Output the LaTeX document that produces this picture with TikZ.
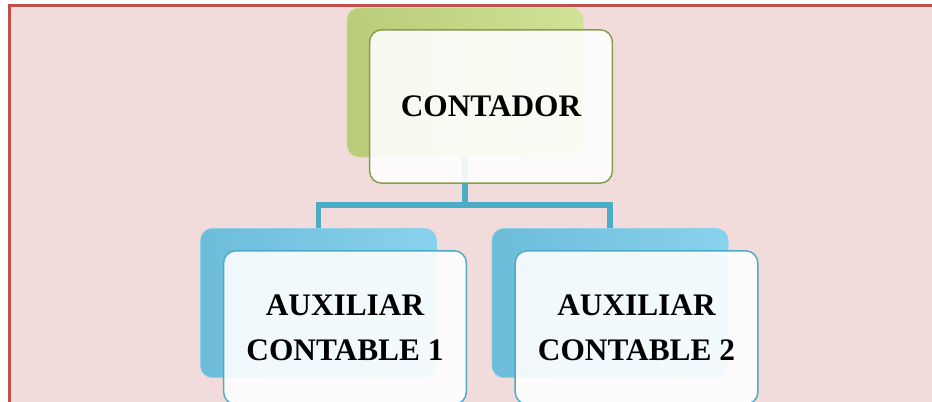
\documentclass[tikz,border=0pt]{standalone}
\usepackage{fontspec}
\setmainfont{Liberation Serif}
\definecolor{marco}{HTML}{C0504D}
\definecolor{rosa}{HTML}{F2DCDB}
\definecolor{verde}{HTML}{9BBB59}
\definecolor{verdeclaro}{HTML}{D0E296}
\definecolor{verdeosc}{HTML}{B9CC79}
\definecolor{azul}{HTML}{4BACC6}
\definecolor{azulclaro}{HTML}{88D2EE}
\definecolor{azulosc}{HTML}{6CBCDA}
\tikzset{
  fondo/.style={rounded corners=9pt, minimum width=177pt, minimum height=112pt, inner sep=0pt},
  frente/.style={rounded corners=9pt, minimum width=182pt, minimum height=115pt, inner sep=0pt,
    fill=white, fill opacity=0.9, text opacity=1, line width=1.1pt, align=center,
    font=\bfseries\fontsize{23.5}{34}\selectfont},
  linea/.style={azul, line width=4pt}
}
\begin{document}
\begin{tikzpicture}[x=0.75pt,y=-0.75pt]
\useasboundingbox (0,0) rectangle (932,401);
\clip (0,0) rectangle (932,401);
\fill[white] (0,0) rectangle (932,401);
\draw[marco, fill=rosa, line width=2.6pt] (9.5,5.5) rectangle (960,430);

% cajas de fondo
\node[fondo, draw=verdeclaro, left color=verdeosc, right color=verdeclaro] (contfondo) at (465,82.5) {};
\node[fondo, draw=azulclaro, left color=azulosc, right color=azulclaro] (aux1fondo) at (318.5,303) {};
\node[fondo, draw=azulclaro, left color=azulosc, right color=azulclaro] (aux2fondo) at (610,303) {};

% conectores
\coordinate (rama) at (465,205);
\draw[linea] (contfondo.south) -- (rama) -| (aux1fondo.north);
\draw[linea] (rama) -| (aux2fondo.north);

% cajas de texto
\node[frente, draw=verde!85!black] (contador) at (491,106.5) {CONTADOR};
\node[frente, draw=azul] (aux1) at (345,327.5) {AUXILIAR\\CONTABLE 1};
\node[frente, draw=azul] (aux2) at (636.5,327.5) {AUXILIAR\\CONTABLE 2};
\end{tikzpicture}
\end{document}
